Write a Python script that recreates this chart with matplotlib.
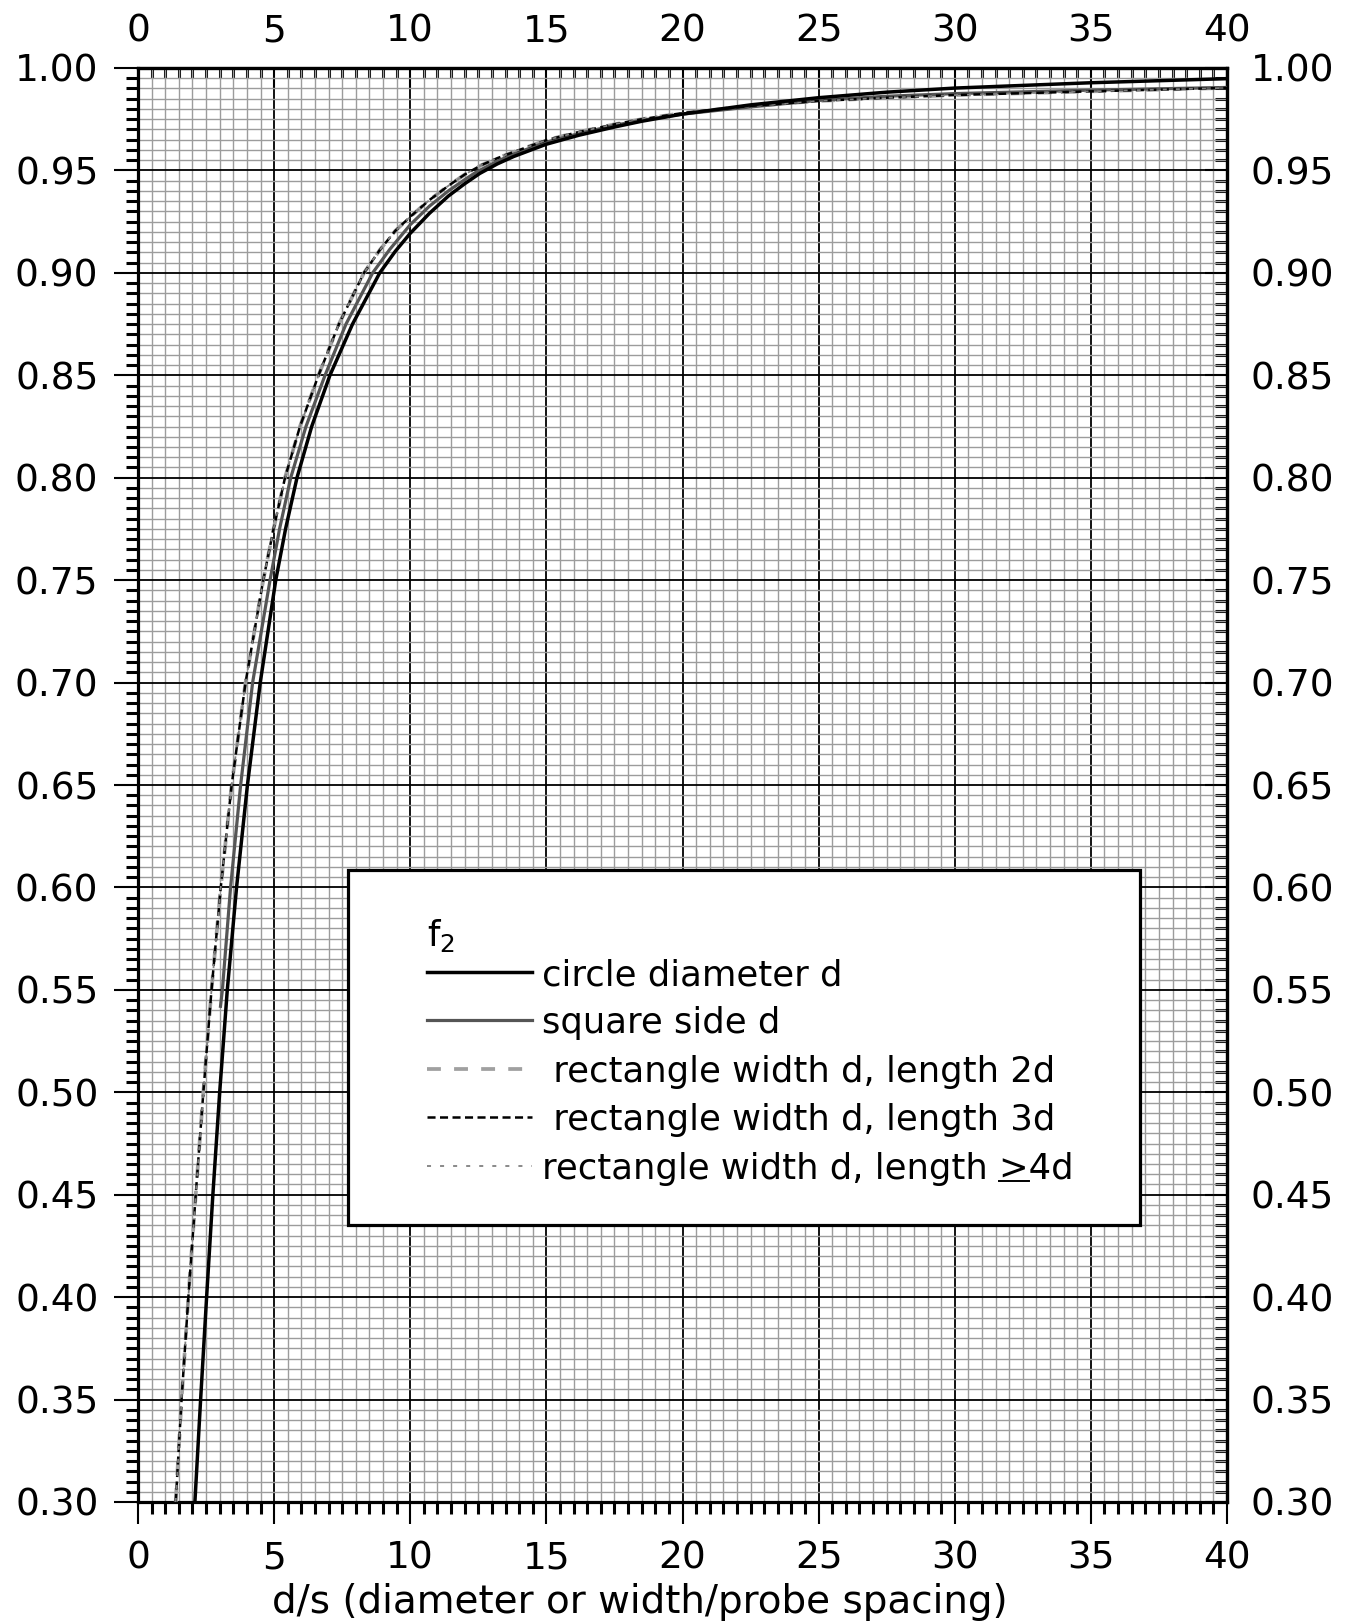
import matplotlib
matplotlib.use('Agg')
import matplotlib.pyplot as plt
from matplotlib.ticker import FixedLocator, FormatStrFormatter
from matplotlib.lines import Line2D
from matplotlib.patches import Rectangle

plt.rcParams['font.family'] = ['DejaVu Sans']
plt.rcParams['mathtext.fontset'] = 'dejavusans'
plt.rcParams['lines.scale_dashes'] = False

# ---------------- data ----------------
circle_x = [2.09, 2.30, 2.52, 2.75, 3.00, 3.28, 3.62, 4.02, 4.49, 5.06, 5.42, 5.84, 6.38,
            7.05, 7.88, 8.88, 9.45, 10.0, 10.7, 11.4, 12.0, 12.55, 13.2, 13.8, 15.0,
            16.2, 17.5, 18.5, 20.0, 22.5, 25.0, 27.5, 30.0, 35.0, 40.0]
circle_f = [0.30, 0.35, 0.40, 0.45, 0.50, 0.55, 0.60, 0.65, 0.70, 0.75, 0.775, 0.80, 0.825,
            0.85, 0.875, 0.90, 0.9105, 0.9193, 0.929, 0.9375, 0.9435, 0.9485, 0.9532, 0.9568, 0.9628,
            0.9672, 0.9712, 0.9740, 0.9775, 0.9820, 0.9855, 0.9882, 0.9902, 0.9928, 0.9948]

square_x = [3.03, 3.10, 3.40, 3.77, 4.21, 4.85, 5.20, 5.61, 6.17, 6.87, 7.64, 8.62,
            9.25, 10.0, 10.7, 11.4, 12.0, 12.4, 13.2, 13.8, 15.0, 16.2, 17.5, 18.5,
            20.0, 22.5, 25.0, 27.5, 30.0, 35.0, 40.0]
square_f = [0.542, 0.55, 0.60, 0.65, 0.70, 0.75, 0.775, 0.80, 0.825, 0.85, 0.875, 0.90,
            0.9115, 0.9235, 0.9325, 0.9400, 0.9455, 0.9490, 0.9545, 0.9580, 0.9638, 0.9680, 0.9720, 0.9745,
            0.9775, 0.9810, 0.9842, 0.9862, 0.9875, 0.9892, 0.9905]

rect2_x = [1.385, 1.60, 1.85, 2.12, 2.40, 2.70, 3.04, 3.44, 3.95, 4.60, 4.98, 5.40, 5.95,
           6.63, 7.38, 8.30, 8.90, 9.45, 10.0, 10.7, 11.4, 12.0, 12.6, 13.2, 13.8, 15.0,
           16.2, 17.5, 18.5, 20.0, 22.5, 25.0, 27.5, 30.0, 35.0, 40.0]
rect2_f = [0.30, 0.35, 0.40, 0.45, 0.50, 0.55, 0.60, 0.65, 0.70, 0.75, 0.775, 0.80, 0.825,
           0.85, 0.875, 0.90, 0.9115, 0.9205, 0.9274, 0.9355, 0.9425, 0.9480, 0.9525, 0.9560, 0.9590, 0.9648,
           0.9688, 0.9725, 0.9750, 0.9780, 0.9815, 0.9839, 0.9855, 0.9868, 0.9886, 0.9903]
rect3_x = list(rect2_x)
rect3_f = list(rect2_f)
rect4_x = list(rect2_x)
rect4_f = list(rect2_f)

labels = ["circle diameter d", "square side d", " rectangle width d, length 2d",
          " rectangle width d, length 3d", "rectangle width d, length >4d"]
xlabel = "d/s (diameter or width/probe spacing)"

x_major = [0, 5, 10, 15, 20, 25, 30, 35, 40]
x_minor = [i * 0.5 for i in range(81)]
y_major = [0.30, 0.35, 0.40, 0.45, 0.50, 0.55, 0.60, 0.65, 0.70, 0.75, 0.80, 0.85, 0.90, 0.95, 1.00]
y_minor = [0.30 + i * 0.005 for i in range(141)]

# ---------------- figure ----------------
W, H = 1351, 1623
fig = plt.figure(figsize=(W / 100, H / 100), dpi=100)
L, R, T, B = 138, 1227, 68, 1502
ax = fig.add_axes([L / W, 1 - B / H, (R - L) / W, (B - T) / H])
ax.set_xlim(0, 40)
ax.set_ylim(0.30, 1.00)

FS = 27
LFS = 25.5


def set_locs(axis, major, minor, fmt=None):
    axis.set_major_locator(FixedLocator(major))
    axis.set_minor_locator(FixedLocator(minor))
    if fmt:
        axis.set_major_formatter(FormatStrFormatter(fmt))


set_locs(ax.xaxis, x_major, x_minor, '%d')
set_locs(ax.yaxis, y_major, y_minor, '%.2f')
ax.grid(which='minor', color='#9c9c9c', lw=1.0)
ax.grid(which='major', color='black', lw=1.3)
ax.set_axisbelow(True)
for s in ax.spines.values():
    s.set_linewidth(2.3)

ax.tick_params(which='major', direction='out', length=17, width=1.5, labelsize=FS,
               top=False, right=False, pad=11.5)
ax.tick_params(which='minor', direction='out', length=8.5, width=2.2, top=False, right=False)
ax.tick_params(axis='x', which='major', length=15.5, pad=12)

secx = ax.secondary_xaxis('top')
set_locs(secx.xaxis, x_major, x_minor, '%d')
secx.tick_params(which='major', direction='in', length=15, width=1.5, labelsize=FS, pad=13)
secx.tick_params(which='minor', direction='in', length=7.5, width=2.2)
secx.spines['top'].set_linewidth(2.3)

secy = ax.secondary_yaxis('right')
set_locs(secy.yaxis, y_major, y_minor, '%.2f')
secy.tick_params(which='major', direction='in', length=16, width=1.5, labelsize=FS, pad=17)
secy.tick_params(which='minor', direction='in', length=8.5, width=2.2)
secy.spines['right'].set_linewidth(2.3)

for a in (ax.xaxis, ax.yaxis, secx.xaxis, secy.yaxis):
    a.offsetText.set_visible(False)

# ---------------- curves ----------------
st_rect2 = dict(color='#a0a0a0', lw=2.7, dashes=(10, 9.5))
st_rect3 = dict(color='black', lw=1.8, dashes=(5.8, 3.2))
st_rect4 = dict(color='#808080', lw=1.3, dashes=(2.9, 6.5))
st_square = dict(color='#555555', lw=2.3)
st_circle = dict(color='black', lw=2.5)

ax.plot(rect2_x, rect2_f, **st_rect2, zorder=3)
ax.plot(rect3_x, rect3_f, **st_rect3, zorder=4)
ax.plot(rect4_x, rect4_f, **st_rect4, zorder=4)
ax.plot(square_x, square_f, **st_square, zorder=3)
ax.plot(circle_x, circle_f, **st_circle, zorder=5)

# ---------------- legend box ----------------
def fx(px):
    return px / W

def fy(py):
    return 1 - py / H

bx0, by0, bx1, by1 = 348, 870, 1140, 1225
fig.add_artist(Rectangle((fx(bx0), fy(by1)), fx(bx1) - fx(bx0), fy(by0) - fy(by1),
                         transform=fig.transFigure, facecolor='white', edgecolor='black',
                         lw=2.3, zorder=10))
fig.text(fx(427), fy(936), r'$\mathregular{f_2}$', fontsize=LFS, va='center', ha='left', zorder=11)
rows = [972, 1020, 1069, 1117, 1166]
styles = [st_circle, st_square, st_rect2, st_rect3, st_rect4]
for lab, yy, st in zip(labels, rows, styles):
    fig.add_artist(Line2D([fx(427), fx(532)], [fy(yy), fy(yy)], transform=fig.transFigure,
                          zorder=11, **st))
    fig.text(fx(542), fy(yy + 3), lab, fontsize=LFS, va='center', ha='left', zorder=11)

# underline under ">" in the last label
renderer = fig.canvas.get_renderer()
last = labels[-1]
idx = last.index('>')
t1 = fig.text(fx(542), fy(rows[-1] + 3), last[:idx + 1], fontsize=LFS, va='center', ha='left')
bb1 = t1.get_window_extent(renderer)
t1.remove()
t2 = fig.text(0.5, 0.5, '>', fontsize=LFS)
bb2 = t2.get_window_extent(renderer)
t2.remove()
xr = bb1.x1
xl = xr - bb2.width
yb = (H - rows[-1] - 15) / H
fig.add_artist(Line2D([xl / W, xr / W], [yb, yb], transform=fig.transFigure, color='black',
                      lw=1.4, zorder=12))

fig.text(fx(640), fy(1602), xlabel, fontsize=28, ha='center', va='center')

fig.savefig('out.png', dpi=100)
